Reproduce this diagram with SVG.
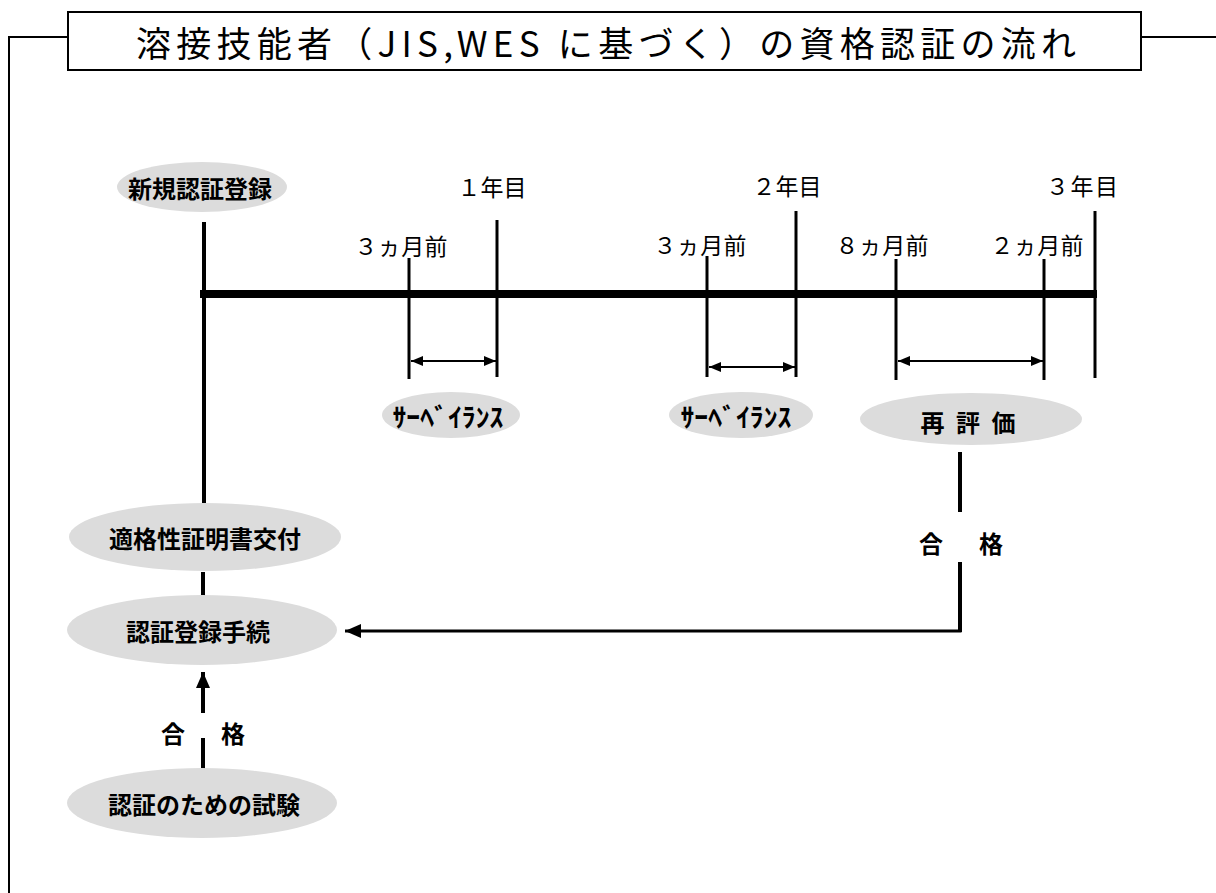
<svg xmlns="http://www.w3.org/2000/svg" width="1216" height="893" viewBox="0 0 1216 893">
<style>
.frame{fill:none;stroke:#000;stroke-width:2}
.node{fill:#dcdcdc;stroke:none}
.lbl{font-family:"Noto Sans CJK JP","Noto Sans",sans-serif;font-size:24px;font-weight:bold;fill:#000;text-anchor:middle;dominant-baseline:central}
.kana{font-family:"Noto Sans CJK JP","Noto Sans",sans-serif;font-size:26px;font-weight:bold;fill:#000;text-anchor:middle;dominant-baseline:central}
.tick{font-family:"Noto Sans CJK JP","Noto Sans",sans-serif;font-size:23px;fill:#000;text-anchor:middle;dominant-baseline:central}
.title{font-family:"Noto Sans CJK JP","Noto Sans",sans-serif;font-size:35px;fill:#000;text-anchor:middle;dominant-baseline:central}
.thick{stroke:#000;stroke-width:4;fill:none}
.thin{stroke:#000;stroke-width:3;fill:none}
.dbl{stroke:#000;stroke-width:2;fill:none;marker-start:url(#ah);marker-end:url(#ah)}
</style>
<defs>
<marker id="ah" markerUnits="userSpaceOnUse" markerWidth="12" markerHeight="10" refX="12" refY="5" orient="auto-start-reverse">
<path d="M0,0 L12,5 L0,10 z" fill="#000"/>
</marker>
<marker id="ahBig" markerUnits="userSpaceOnUse" markerWidth="16" markerHeight="14" refX="16" refY="7" orient="auto">
<path d="M0,0 L16,7 L0,14 z" fill="#000"/>
</marker>
</defs>
<rect width="1216" height="893" fill="#fff"/>

<g id="frame">
<polyline class="frame" points="68,37 9,37 9,893"/>
<line class="frame" x1="1141" y1="37" x2="1216" y2="37"/>
<rect class="frame" x="68" y="12" width="1073" height="58"/>
<text class="title" x="606" y="41" textLength="940" lengthAdjust="spacing">溶接技能者（JIS,WES に基づく）の資格認証の流れ</text>
</g>

<g id="connectors">
<line class="thick" x1="204" y1="222" x2="204" y2="503"/>
<line stroke="#000" stroke-width="8" x1="200" y1="294" x2="1097" y2="294"/>
<line class="thin" x1="497" y1="220" x2="497" y2="377"/>
<line class="thin" x1="409" y1="258" x2="409" y2="379"/>
<line class="thin" x1="796" y1="211" x2="796" y2="377"/>
<line class="thin" x1="707" y1="256" x2="707" y2="377"/>
<line class="thin" x1="896" y1="259" x2="896" y2="380"/>
<line class="thin" x1="1044" y1="259" x2="1044" y2="380"/>
<line class="thin" x1="1095" y1="211" x2="1095" y2="378"/>
<line class="dbl" x1="411" y1="361" x2="496" y2="361"/>
<line class="dbl" x1="709" y1="367" x2="795" y2="367"/>
<line class="dbl" x1="898" y1="361" x2="1043" y2="361"/>
<line class="thick" x1="203" y1="572" x2="203" y2="596"/>
<line class="thick" x1="960" y1="452" x2="960" y2="512"/>
<polyline class="thin" points="960,562 960,631 345,631" marker-end="url(#ahBig)"/>
<line class="thick" x1="960" y1="562" x2="960" y2="632"/>
<line class="thick" x1="203" y1="713" x2="203" y2="672" marker-end="url(#ahBig)"/>
<line class="thick" x1="203" y1="738" x2="203" y2="769"/>
<text class="lbl" x="961" y="542" textLength="84" lengthAdjust="spacing">合　格</text>
<text class="lbl" x="203" y="732" textLength="84" lengthAdjust="spacing">合　格</text>
</g>

<g id="n-shinki">
<ellipse class="node" cx="202" cy="187" rx="85" ry="25"/>
<text class="lbl" x="200" y="187">新規認証登録</text>
</g>
<g id="t-1nen"><text class="tick" x="492" y="186" textLength="69" lengthAdjust="spacing">１年目</text></g>
<g id="t-2nen"><text class="tick" x="787" y="185" textLength="69" lengthAdjust="spacing">２年目</text></g>
<g id="t-3nen"><text class="tick" x="1082" y="185" textLength="72" lengthAdjust="spacing">３年目</text></g>
<g id="t-3m1"><text class="tick" x="401" y="245" textLength="93" lengthAdjust="spacing">３ヵ月前</text></g>
<g id="t-3m2"><text class="tick" x="700" y="244" textLength="93" lengthAdjust="spacing">３ヵ月前</text></g>
<g id="t-8m"><text class="tick" x="882" y="244" textLength="93" lengthAdjust="spacing">８ヵ月前</text></g>
<g id="t-2m"><text class="tick" x="1037" y="244" textLength="93" lengthAdjust="spacing">２ヵ月前</text></g>

<g id="n-surv1">
<ellipse class="node" cx="451" cy="415" rx="69" ry="23"/>
<text class="kana" x="448" y="415" textLength="111" lengthAdjust="spacingAndGlyphs">ｻｰﾍﾞｲﾗﾝｽ</text>
</g>
<g id="n-surv2">
<ellipse class="node" cx="741" cy="415" rx="72" ry="23"/>
<text class="kana" x="736" y="415" textLength="111" lengthAdjust="spacingAndGlyphs">ｻｰﾍﾞｲﾗﾝｽ</text>
</g>
<g id="n-saihyoka">
<ellipse class="node" cx="971" cy="419" rx="111" ry="26"/>
<text class="lbl" x="968" y="421" textLength="95" lengthAdjust="spacing">再 評 価</text>
</g>
<g id="n-tekikaku">
<ellipse class="node" cx="205" cy="537" rx="136" ry="34"/>
<text class="lbl" x="205" y="537">適格性証明書交付</text>
</g>
<g id="n-tetsuzuki">
<ellipse class="node" cx="202" cy="630" rx="135" ry="35"/>
<text class="lbl" x="198" y="630">認証登録手続</text>
</g>
<g id="n-shiken">
<ellipse class="node" cx="202" cy="803" rx="135" ry="35"/>
<text class="lbl" x="204" y="803">認証のための試験</text>
</g>
</svg>
